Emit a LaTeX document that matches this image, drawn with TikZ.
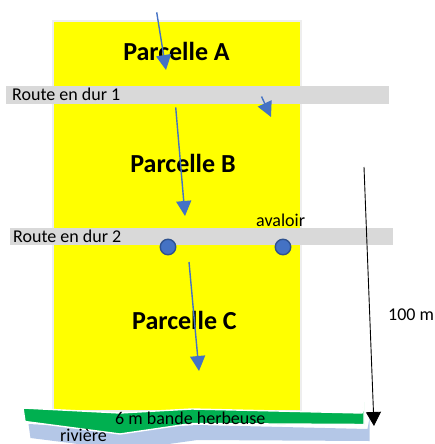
\documentclass[tikz,border=0pt]{standalone}
\usepackage{fontspec}
\setmainfont{Carlito}
\usetikzlibrary{arrows.meta}
\definecolor{fieldyellow}{RGB}{255,255,0}
\definecolor{fieldedge}{RGB}{238,238,238}
\definecolor{roadgray}{RGB}{217,217,217}
\definecolor{flowblue}{RGB}{68,114,196}
\definecolor{drainedge}{RGB}{47,82,143}
\definecolor{grassgreen}{RGB}{0,176,80}
\definecolor{riverblue}{RGB}{180,199,231}
\tikzset{
  parcel/.style={font=\fontsize{26}{30}\selectfont\bfseries, inner sep=0pt, anchor=base},
  lbl/.style={font=\fontsize{18}{21}\selectfont, inner sep=0pt, anchor=base west},
  road/.style={fill=roadgray, draw=none},
  flow/.style={draw=flowblue, line width=1.4pt, -{Triangle[length=15pt,width=15pt]}},
  drain/.style={circle, fill=flowblue, draw=drainedge, line width=1.4pt, minimum size=15.5pt, inner sep=0pt},
  measure/.style={draw=black, line width=0.9pt, -{Triangle[length=14pt,width=15pt]}}
}
\begin{document}
\begin{tikzpicture}[x=1pt,y=-1pt]
\useasboundingbox (0,0) rectangle (435,444);
% river and grass strip
\fill[riverblue] (28.5,424) -- (125.5,429) -- (197.5,425) -- (367.5,429) -- (369.5,418) -- (369.5,441) -- (197.5,440) -- (125.5,450) -- (30.5,438) -- cycle;
% field
\fill[fieldyellow, draw=fieldedge, line width=2.5pt] (53,21) rectangle (301,411);
\filldraw[fill=grassgreen, draw=white, line width=1.4pt, line join=miter] (23,408) -- (120,413) -- (192,409) -- (362,413) -- (364,402) -- (364,424.5) -- (192,423.5) -- (120,434) -- (25,421.5) -- cycle;
% roads
\fill[road] (6,86) rectangle (389,104);
\fill[road] (10,228) rectangle (393,245);
% labels
\node[parcel] (pa) at (176.5,60) {Parcelle A};
\node[parcel] (pb) at (183,172.7) {Parcelle B};
\node[parcel] (pc) at (184.5,329.3) {Parcelle C};
\node[lbl] (r1) at (12,100.7) {Route en dur 1};
\node[lbl] (r2) at (13,242.7) {Route en dur 2};
\node[lbl] (av) at (256,226) {avaloir};
\node[lbl] (dist) at (388,320) {100 m};
\node[lbl] (grass) at (115,424) {6 m bande herbeuse};
\node[lbl] (riv) at (60,441.5) {rivière};
% flow arrows
\coordinate (f1s) at (156.7,12.3);
\coordinate (f1e) at (166,70);
\coordinate (f2s) at (261.5,96.5);
\coordinate (f2e) at (271,117);
\coordinate (f3s) at (175.7,107.3);
\coordinate (f3e) at (185,216);
\coordinate (f4s) at (189,262);
\coordinate (f4e) at (199,371);
\draw[flow] (f1s) -- (f1e);
\draw[flow] (f2s) -- (f2e);
\draw[flow] (f3s) -- (f3e);
\draw[flow] (f4s) -- (f4e);
% drains
\node[drain] (d1) at (168,247) {};
\node[drain] (d2) at (283,247) {};
% distance arrow
\coordinate (ms) at (364,167);
\coordinate (me) at (374,426);
\draw[measure] (ms) -- (me);
\end{tikzpicture}
\end{document}
